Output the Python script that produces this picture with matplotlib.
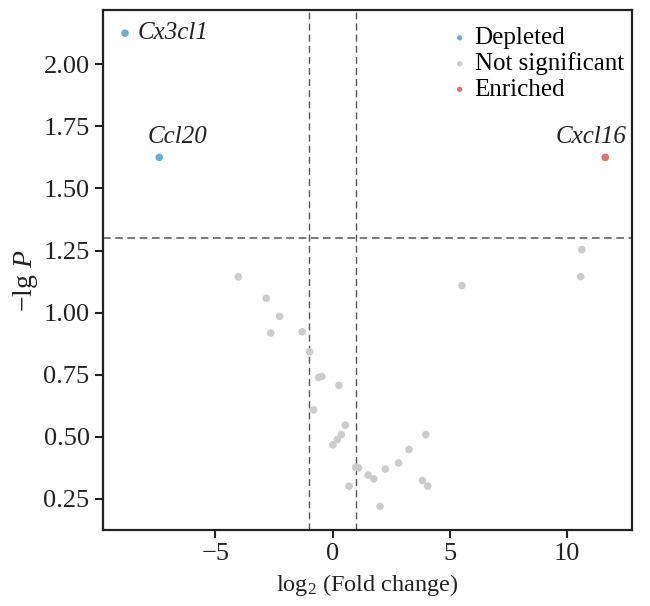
import matplotlib
matplotlib.use("Agg")
import matplotlib.pyplot as plt

plt.rcParams['font.family'] = ['Liberation Serif', 'DejaVu Serif']
plt.rcParams['mathtext.fontset'] = 'custom'
plt.rcParams['mathtext.rm'] = 'Liberation Serif'
plt.rcParams['mathtext.it'] = 'Liberation Serif:italic'
plt.rcParams['axes.unicode_minus'] = True

# Data
dep_genes = ["Cx3cl1", "Ccl20"]
dep_fc = [-8.85, -7.39]
dep_p = [2.125, 1.625]

enr_genes = ["Cxcl16"]
enr_fc = [11.62]
enr_p = [1.625]

ns_fc = [-4.02, -2.83, -2.26, -2.64, -1.30, -0.98, -0.60, -0.46, 0.27, -0.81,
         0.54, 0.37, 0.20, 0.01, 3.97, 3.25, 2.81, 2.25, 0.98, 1.10, 1.51,
         1.75, 0.70, 3.83, 4.05, 2.02, 5.51, 10.62, 10.57]
ns_p = [1.144, 1.058, 0.985, 0.918, 0.923, 0.843, 0.739, 0.743, 0.707, 0.609,
        0.547, 0.509, 0.489, 0.468, 0.509, 0.449, 0.395, 0.370, 0.378, 0.375, 0.346,
        0.331, 0.301, 0.324, 0.302, 0.220, 1.109, 1.254, 1.145]

fc_cut = 1.0
p_cut = 1.301

c_dep = '#6aaed6'
c_ns = '#cccccc'
c_enr = '#e07070'

fig = plt.figure(figsize=(6.5, 6.06), dpi=100)
ax = fig.add_axes([0.158, 0.1254, 0.814, 0.858])

ax.scatter(dep_fc, dep_p, s=30, color=c_dep, edgecolors='none', label='Depleted', zorder=3)
ax.scatter(ns_fc, ns_p, s=30, color=c_ns, edgecolors='none', label='Not significant', zorder=3)
ax.scatter(enr_fc, enr_p, s=30, color=c_enr, edgecolors='none', label='Enriched', zorder=3)

ax.axhline(p_cut, color='#555555', lw=1.1, ls=(0, (5, 3)), zorder=2)
ax.axvline(-fc_cut, color='#555555', lw=1.0, ls=(0, (5, 3)), zorder=2)
ax.axvline(fc_cut, color='#555555', lw=1.0, ls=(0, (5, 3)), zorder=2)

# gene labels
offsets = {"Cx3cl1": ((13, 0), 'left', 'center'),
           "Ccl20": ((-12, 9), 'left', 'bottom'),
           "Cxcl16": ((-14, 9), 'center', 'bottom')}
for g, x, y in list(zip(dep_genes, dep_fc, dep_p)) + list(zip(enr_genes, enr_fc, enr_p)):
    off, ha, va = offsets[g]
    ax.annotate(g, (x, y), xytext=off, textcoords='offset pixels',
                ha=ha, va=va, fontsize=18, style='italic', color='#222222')

ax.set_xlim(-9.8, 12.75)
ax.set_ylim(0.125, 2.218)
ax.set_xticks([-5, 0, 5, 10])
ax.set_yticks([0.25, 0.50, 0.75, 1.00, 1.25, 1.50, 1.75, 2.00])
ax.set_yticklabels(['0.25', '0.50', '0.75', '1.00', '1.25', '1.50', '1.75', '2.00'])

for sp in ax.spines.values():
    sp.set_linewidth(1.6)
    sp.set_color('#222222')
ax.tick_params(axis='both', which='major', length=6, width=1.5, labelsize=19,
               colors='#222222', direction='out')

ax.set_xlabel('log$_2$ (Fold change)', fontsize=17.5, color='#222222', labelpad=5)
ax.set_ylabel('−lg $\\mathit{P}$', fontsize=20, color='#222222', labelpad=4)
ax.yaxis.set_label_coords(-0.118, 0.48)

leg = ax.legend(loc='upper right', bbox_to_anchor=(1.0, 0.983), frameon=False,
                fontsize=18, markerscale=0.7,
                handletextpad=0.1, labelspacing=0.12, borderaxespad=0.0,
                handlelength=1.0, borderpad=0.32)

fig.savefig('out.png', dpi=100, facecolor='white')
